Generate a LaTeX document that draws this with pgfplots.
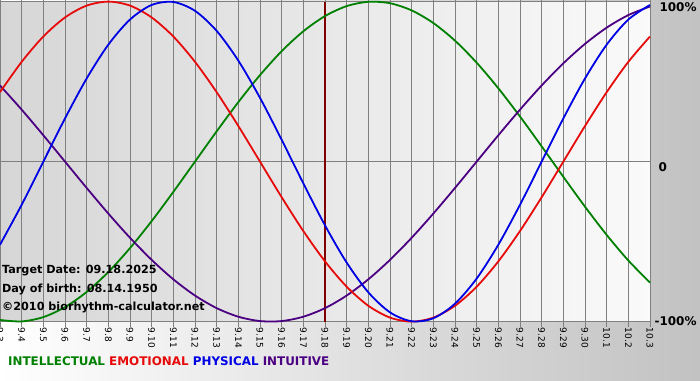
\documentclass[border=0pt]{standalone}
\usepackage{fontspec}
\setmainfont{DejaVu Sans}
\usepackage{pgfplots}
\pgfplotsset{compat=1.18}
\definecolor{cInt}{RGB}{0,128,0}
\definecolor{cEmo}{RGB}{230,10,10}
\definecolor{cPhy}{RGB}{0,0,228}
\definecolor{cIntu}{RGB}{75,0,130}
\definecolor{cMark}{RGB}{128,0,0}
\definecolor{cGrid}{RGB}{128,128,128}

\pgfplotstableread{
x intel emo phys intu
0  -98.982  43.388 -51.958  47.595
1  -99.887  62.349 -26.980  32.470
2  -97.181  78.183   0.000  16.459
3  -90.963  90.097  26.980   0.000
4  -81.458  97.493  51.958 -16.459
5  -69.007 100.000  73.084 -32.470
6  -54.064  97.493  88.789 -47.595
7  -37.166  90.097  97.908 -61.421
8  -18.925  78.183  99.767 -73.572
9    0.000  62.349  94.226 -83.717
10  18.925  43.388  81.697 -91.577
11  37.166  22.252  63.109 -96.940
12  54.064   0.000  39.840 -99.658
13  69.007 -22.252  13.617 -99.658
14  81.458 -43.388 -13.617 -96.940
15  90.963 -62.349 -39.840 -91.577
16  97.181 -78.183 -63.109 -83.717
17  99.887 -90.097 -81.697 -73.572
18  98.982 -97.493 -94.226 -61.421
19  94.493 -100.000 -99.767 -47.595
20  86.603 -97.493 -97.908 -32.470
21  75.575 -90.097 -88.789 -16.459
22  61.816 -78.183 -73.084   0.000
23  45.822 -62.349 -51.958  16.459
24  28.173 -43.388 -26.980  32.470
25   9.506 -22.252   0.000  47.595
26  -9.506   0.000  26.980  61.421
27 -28.173  22.252  51.958  73.572
28 -45.822  43.388  73.084  83.717
29 -61.816  62.349  88.789  91.577
30 -75.575  78.183  97.908  96.940
}\bio

\begin{document}
\begin{tikzpicture}[x=1pt,y=1pt]
\useasboundingbox (0,0) rectangle (700,-380);
\shade[left color=white, right color=black!24] (0,0) rectangle (700,-380);
\begin{axis}[
  at={(0,-1)}, anchor=north west,
  scale only axis, width=650pt, height=320pt,
  xmin=0, xmax=30, ymin=-100, ymax=100,
  clip=false,
  axis background/.style={shade, left color=black!16, right color=black!2},
  axis line style={draw=none},
  xtick={0,...,30},
  xticklabels={9.3,9.4,9.5,9.6,9.7,9.8,9.9,9.10,9.11,9.12,9.13,9.14,9.15,9.16,9.17,9.18,9.19,9.20,9.21,9.22,9.23,9.24,9.25,9.26,9.27,9.28,9.29,9.30,10.1,10.2,10.3},
  xticklabel style={rotate=-90, anchor=west, font=\fontsize{9}{10}\selectfont, inner sep=1pt},
  tick align=outside, major tick length=5pt,
  xtick style={draw=cGrid, line width=1pt},
  ytick={-100,0,100}, yticklabels={},
  ytick style={draw=none},
  xmajorgrids, ymajorgrids,
  major grid style={draw=cGrid, line width=1pt},
]
\addplot[cMark, line width=2pt] coordinates {(15,-100) (15,100)};
\addplot[cInt, line width=1.8pt, smooth] table[x=x, y=intel] {\bio};
\addplot[cIntu, line width=1.8pt, smooth] table[x=x, y=intu] {\bio};
\addplot[cEmo, line width=1.8pt, smooth] table[x=x, y=emo] {\bio};
\addplot[cPhy, line width=1.8pt, smooth] table[x=x, y=phys] {\bio};
\node[anchor=west, font=\bfseries\fontsize{12}{14}\selectfont, xshift=6pt, yshift=-6pt] at (axis cs:30,100) {100\%};
\node[anchor=west, font=\bfseries\fontsize{12}{14}\selectfont, xshift=5pt, yshift=-6pt] at (axis cs:30,0) {0};
\node[anchor=west, font=\bfseries\fontsize{12}{14}\selectfont, xshift=1pt, yshift=0pt] at (axis cs:30,-100) {-100\%};
\end{axis}
\begin{scope}[font=\bfseries\fontsize{11.2}{13}\selectfont]
\node[anchor=west, inner sep=0pt] at (2,-271) {Target Date: 09.18.2025};
\node[anchor=west, inner sep=0pt] at (2,-289) {Day of birth: 08.14.1950};
\node[anchor=west, inner sep=0pt] at (2,-307) {©2010 biorhythm-calculator.net};
\end{scope}
\node[anchor=west, inner sep=0pt, font=\bfseries\fontsize{11.9}{14}\selectfont] at (8,-361) {\textcolor{cInt}{INTELLECTUAL} \textcolor{cEmo}{EMOTIONAL} \textcolor{cPhy}{PHYSICAL} \textcolor{cIntu}{INTUITIVE}};
\end{tikzpicture}
\end{document}
